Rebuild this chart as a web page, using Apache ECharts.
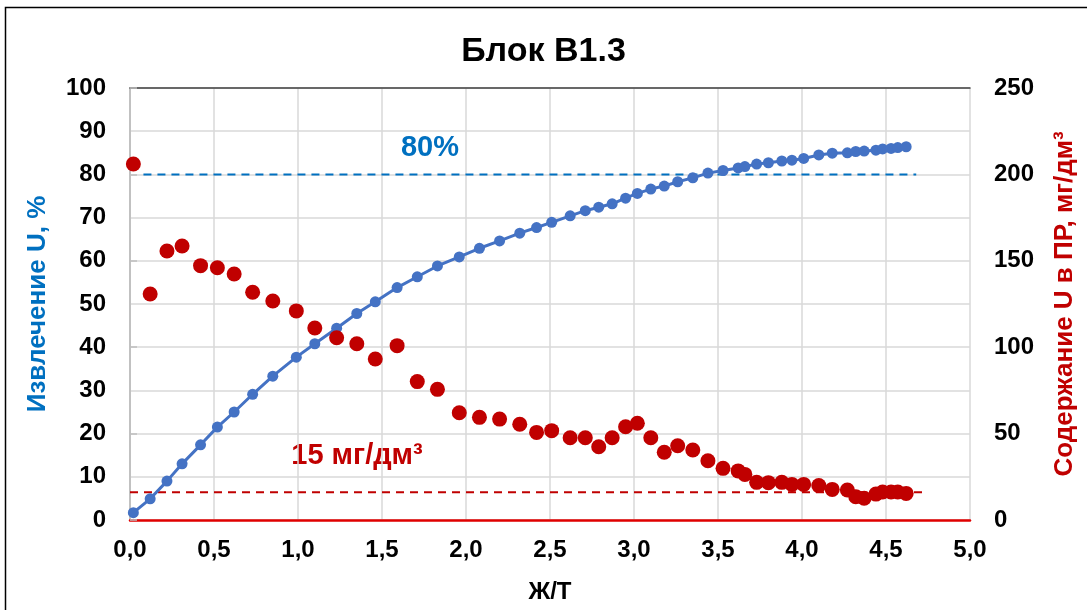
<!DOCTYPE html>
<html>
<head>
<meta charset="utf-8">
<script src="https://cdn.jsdelivr.net/npm/echarts@6/dist/echarts.min.js"></script>
<style>
html,body{margin:0;padding:0;background:#fff;}
#chart{width:1087px;height:610px;}
</style>
</head>
<body>
<div id="chart"></div>
<script>
// Ж/Т values (shared by both series)
const ratioLT = [0.02, 0.12, 0.22, 0.31, 0.42, 0.52, 0.62, 0.73, 0.85, 0.99,
  1.10, 1.23, 1.35, 1.46, 1.59, 1.71, 1.83, 1.96, 2.08, 2.20,
  2.32, 2.42, 2.51, 2.62, 2.71, 2.79, 2.87, 2.95, 3.02, 3.10,
  3.18, 3.26, 3.35, 3.44, 3.53, 3.62, 3.66, 3.73, 3.80, 3.88,
  3.94, 4.01, 4.10, 4.18, 4.27, 4.32, 4.37, 4.44, 4.48, 4.53,
  4.57, 4.62];
// Извлечение U, %
const extraction = [1.7, 4.9, 9.0, 13.0, 17.4, 21.5, 25.0, 29.1, 33.3, 37.7,
  40.8, 44.4, 47.8, 50.5, 53.8, 56.3, 58.8, 60.9, 62.9, 64.6,
  66.4, 67.7, 68.9, 70.4, 71.6, 72.4, 73.2, 74.5, 75.6, 76.6,
  77.3, 78.3, 79.2, 80.3, 80.9, 81.5, 81.8, 82.4, 82.7, 83.1,
  83.3, 83.7, 84.5, 84.9, 85.0, 85.3, 85.4, 85.6, 85.9, 86.0,
  86.2, 86.4];
// Содержание U в ПР, мг/дм3
const concentration = [206, 130.8, 155.7, 158.6, 147.2, 146, 142.4, 131.8, 126.7, 121,
  111.1, 105.5, 102, 93.2, 100.9, 80.1, 75.6, 62.1, 59.4, 58.4,
  55.4, 50.7, 51.7, 47.6, 47.6, 42.4, 47.6, 54, 56, 47.6,
  39.2, 43, 40.5, 34.3, 29.9, 28.4, 26.4, 21.8, 21.6, 21.8,
  20.6, 20.6, 19.9, 17.7, 17.4, 13.5, 12.6, 15.0, 16.2, 16.2,
  16.2, 15.4];
// reference levels
const level80 = [[0.08, 80], [4.68, 80]];
const level15 = [[0.0, 16], [4.72, 16]];

const titleText = 'Блок В1.3';
const xName = 'Ж/Т';
const yLeftName = 'Извлечение U, %';
const yRightName = 'Содержание U в ПР, мг/дм³';

const FONT = '"Liberation Sans", Arial, sans-serif';
const chart = echarts.init(document.getElementById('chart'), null, {renderer: 'canvas'});

const ext = ratioLT.map((x, i) => [x, extraction[i]]);
const conc = ratioLT.map((x, i) => [x, concentration[i]]);

chart.setOption({
  animation: false,
  backgroundColor: '#fff',
  textStyle: {fontFamily: FONT},
  title: {
    text: titleText, left: 'center', top: 30,
    textStyle: {fontFamily: FONT, fontSize: 34, fontWeight: 'bold', color: '#000'}
  },
  grid: {left: 130, right: 117, top: 88, bottom: 90},
  xAxis: [{
    type: 'value', min: 0, max: 5, interval: 0.5,
    name: xName, nameLocation: 'middle', nameGap: 60,
    nameTextStyle: {fontFamily: FONT, fontSize: 24, fontWeight: 'bold', color: '#000'},
    axisLine: {show: true, onZero: false, lineStyle: {color: '#e00000', width: 2.5}},
    axisTick: {show: false},
    axisLabel: {margin: 18, fontFamily: FONT, fontSize: 24, fontWeight: 'bold', color: '#000',
      formatter: v => v.toFixed(1).replace('.', ',')},
    splitLine: {show: true, lineStyle: {color: '#d9d9d9', width: 1.5}}
  }, {
    type: 'value', position: 'top', min: 0, max: 5,
    axisLine: {show: true, onZero: false, lineStyle: {color: '#404040', width: 1.5}},
    axisTick: {show: false}, axisLabel: {show: false}, splitLine: {show: false}
  }],
  yAxis: [{
    type: 'value', min: 0, max: 100, interval: 10,
    name: yLeftName, nameLocation: 'middle', nameGap: 79, nameRotate: 90,
    nameTextStyle: {fontFamily: FONT, fontSize: 26, fontWeight: 'bold', color: '#0070c0'},
    axisLine: {show: true, lineStyle: {color: '#bfbfbf', width: 1.5}},
    axisTick: {show: false},
    axisLabel: {margin: 24, fontFamily: FONT, fontSize: 24, fontWeight: 'bold', color: '#000'},
    splitLine: {show: true, lineStyle: {color: '#d9d9d9', width: 1.5}}
  }, {
    type: 'value', min: 0, max: 250, interval: 50, position: 'right',
    name: yRightName, nameLocation: 'middle', nameGap: 82, nameRotate: 90,
    nameTextStyle: {fontFamily: FONT, fontSize: 26, fontWeight: 'bold', color: '#c00000'},
    axisLine: {show: true, lineStyle: {color: '#bfbfbf', width: 1.5}},
    axisTick: {show: true, inside: false, length: 7, lineStyle: {color: '#bfbfbf', width: 1.5}},
    axisLabel: {margin: 24, fontFamily: FONT, fontSize: 24, fontWeight: 'bold', color: '#000'},
    splitLine: {show: false}
  }],
  series: [{
    type: 'line', name: '80%', data: level80, xAxisIndex: 0, yAxisIndex: 0,
    symbol: 'none', silent: true,
    lineStyle: {color: '#0070c0', width: 2, type: [8, 6]}, z: 2
  }, {
    type: 'line', name: '15', data: level15, xAxisIndex: 0, yAxisIndex: 1,
    symbol: 'none', silent: true,
    lineStyle: {color: '#c00000', width: 2, type: [8, 6]}, z: 2
  }, {
    type: 'line', name: yLeftName, data: ext, xAxisIndex: 0, yAxisIndex: 0,
    symbol: 'circle', symbolSize: 11, showSymbol: true,
    itemStyle: {color: '#4472c4', opacity: 1},
    lineStyle: {color: '#4472c4', width: 3}, z: 3
  }, {
    type: 'scatter', name: yRightName, data: conc, xAxisIndex: 0, yAxisIndex: 1,
    symbol: 'circle', symbolSize: 15,
    itemStyle: {color: '#c00000', opacity: 1}, z: 4
  }],
  graphic: [{
    type: 'rect', shape: {x: 5.5, y: 7.5, width: 1200, height: 800},
    style: {fill: 'none', stroke: '#000', lineWidth: 1.5}, silent: true, z: -1
  }, {
    type: 'text', x: 430, y: 148,
    style: {text: '80%', fill: '#0070c0', font: 'bold 29px ' + FONT, textAlign: 'center', textVerticalAlign: 'middle'}
  }, {
    type: 'text', x: 357, y: 456,
    style: {text: '15 мг/дм³', fill: '#c00000', font: 'bold 29px ' + FONT, textAlign: 'center', textVerticalAlign: 'middle'}
  }]
});
</script>
</body>
</html>
